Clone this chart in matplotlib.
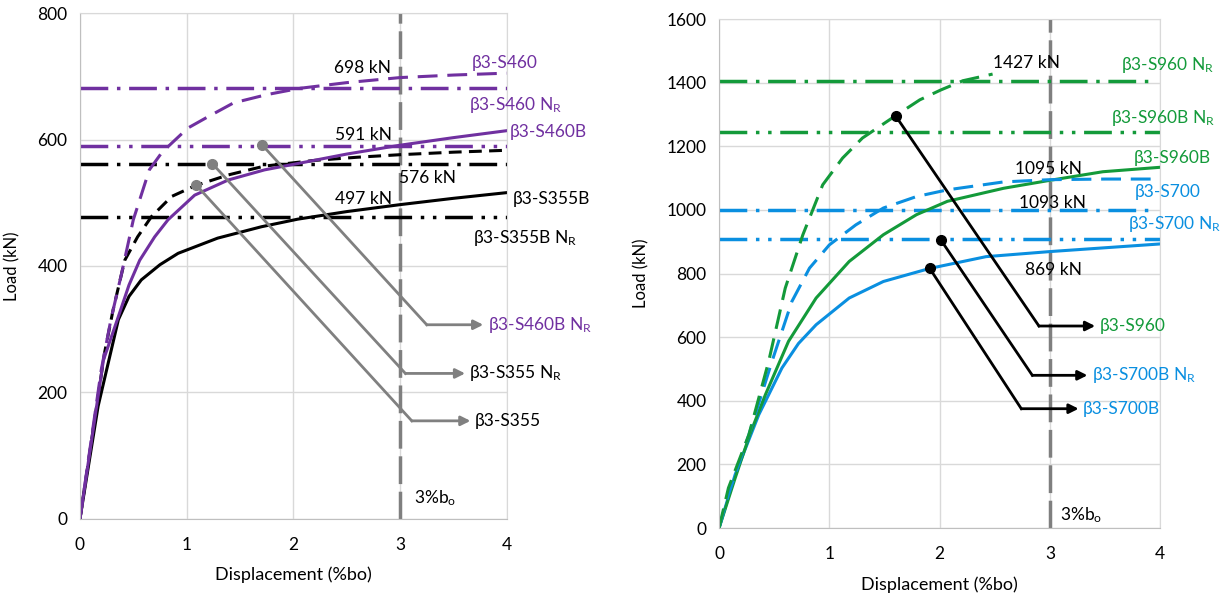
# Load-displacement curves, beta3 joints (S355/S460 left, S700/S960 right)

# ============================================
# region 1. Libraries
import matplotlib
matplotlib.use("Agg")
import matplotlib.pyplot as plt
# endregion

# ============================================
# region 2. Data
# --- left panel ---
s355b_x = [0, 0.17, 0.36, 0.46, 0.575, 0.75, 0.92, 1.29, 1.7, 2.04, 2.5, 3.0, 3.5, 4.0]
s355b_y = [0, 178, 315, 352, 378, 402, 420, 444, 462, 474, 486, 497, 507, 516]

s355_x = [0, 0.23, 0.31, 0.42, 0.54, 0.67, 0.86, 1.08, 1.39, 1.73, 2.2, 2.6, 3.0, 3.5, 4.0]
s355_y = [0, 262, 330, 409, 446, 478, 510, 527, 544, 558, 567, 572, 576, 580, 583]

s460b_x = [0, 0.22, 0.36, 0.46, 0.56, 0.7, 0.825, 1.075, 1.39, 1.73, 2.04, 2.5, 3.0, 3.5, 4.0]
s460b_y = [0, 251, 320, 370, 409, 446, 473, 512, 536, 552, 562, 577, 591, 603, 614]

s460_x = [0, 0.2, 0.29, 0.39, 0.5, 0.65, 0.77, 0.89, 1.01, 1.2, 1.44, 1.75, 2.06, 2.5, 3.0, 3.5, 4.0]
s460_y = [0, 236, 315, 388, 473, 552, 580, 599, 618, 636, 658, 671, 681, 690, 698, 702, 705]

nr_left = [682, 589, 561, 478]   # S460, S460B, S355, S355B resistances

left_markers_x = [1.09, 1.24, 1.71]
left_markers_y = [528, 562, 591]
left_elbow_x = [3.11, 3.05, 3.25]
left_elbow_y = [155, 230, 307]
left_tip_x = [3.66, 3.61, 3.78]
left_arrow_labels = ["β3-S355", r"β3-S355 $\mathregular{N_R}$", r"β3-S460B $\mathregular{N_R}$"]

# --- right panel ---
s960_x = [0, 0.085, 0.27, 0.45, 0.6, 0.76, 0.94, 1.12, 1.3, 1.6, 1.82, 2.01, 2.21, 2.48]
s960_y = [0, 126, 293, 524, 754, 922, 1079, 1163, 1226, 1296, 1346, 1377, 1406, 1427]

s700_x = [0, 0.085, 0.27, 0.48, 0.66, 0.82, 1.0, 1.24, 1.49, 1.79, 2.07, 2.58, 3.0, 3.5, 4.0]
s700_y = [0, 105, 293, 524, 712, 817, 890, 953, 1006, 1042, 1063, 1088, 1095, 1097, 1097]

s960b_x = [0, 0.146, 0.28, 0.42, 0.63, 0.88, 1.18, 1.49, 1.79, 2.07, 2.58, 3.0, 3.48, 4.0]
s960b_y = [0, 157, 295, 419, 587, 723, 838, 922, 985, 1027, 1068, 1093, 1120, 1134]

s700b_x = [0, 0.146, 0.36, 0.57, 0.72, 0.88, 1.18, 1.49, 1.91, 2.42, 3.0, 4.0]
s700b_y = [0, 168, 356, 503, 580, 639, 723, 775, 816, 853, 869, 893]

nr_right = [1404, 1245, 1000, 908]   # S960, S960B, S700, S700B resistances

right_markers_x = [1.6, 2.01, 1.91]
right_markers_y = [1296, 906, 816]
right_elbow_x = [2.9, 2.84, 2.74]
right_elbow_y = [635, 480, 375]
right_tip_x = [3.41, 3.34, 3.26]
right_arrow_labels = ["β3-S960", r"β3-S700B $\mathregular{N_R}$", "β3-S700B"]
# endregion

# ============================================
# region 3. Style
purple = "#7030A0"
green = "#139A3A"
blue = "#0A8FE0"
grey = "#808080"
grid_col = "#D9D9D9"

plt.rcParams["font.family"] = ["Lato", "DejaVu Sans"]
plt.rcParams["mathtext.fontset"] = "custom"
plt.rcParams["mathtext.rm"] = "Lato"
plt.rcParams["font.size"] = 12
plt.rcParams["lines.solid_joinstyle"] = "round"
plt.rcParams["lines.dash_joinstyle"] = "round"

long_dash_dot = (0, (8, 2.5, 1, 2.5))
long_dash_dot_dot = (0, (8, 2.5, 1, 2.5, 1, 2.5))
# endregion

fig = plt.figure(figsize=(12.3, 5.95), dpi=100)
ax1 = fig.add_axes([0.065, 0.128, 0.347, 0.85])
ax2 = fig.add_axes([0.5846, 0.1126, 0.3587, 0.8554])


def base_axes(ax, ymax, ystep):
    ax.set_xlim(0, 4)
    ax.set_ylim(0, ymax)
    ax.set_xticks(range(0, 5))
    ax.set_yticks(range(0, ymax + 1, ystep))
    ax.grid(True, color=grid_col, linewidth=1)
    ax.set_axisbelow(True)
    for s in ax.spines.values():
        s.set_color(grid_col)
    ax.spines["left"].set_color("#BFBFBF")
    ax.spines["bottom"].set_color("#BFBFBF")
    ax.tick_params(axis="x", length=0, pad=13, labelsize=12.5)
    ax.tick_params(axis="y", length=0, pad=9, labelsize=12.5)
    ax.set_xlabel("Displacement (%bo)", fontsize=13, labelpad=10)
    ax.set_ylabel("Load (kN)", fontsize=12, labelpad=12)
    # 3% b0 limit
    ax.axvline(3, color="#7F7F7F", linewidth=2.5, linestyle=(0, (8, 2.2)), zorder=1)


def leader(ax, mx, my, ex, ey, tx, label, col, lcol):
    ax.plot([mx, ex], [my, ey], color=lcol, linewidth=2, zorder=4)
    ax.plot(mx, my, "o", color=lcol, markersize=7, zorder=5)
    ax.annotate("", xy=(tx, ey), xytext=(ex, ey),
                arrowprops=dict(arrowstyle="-|>", color=lcol, lw=2, mutation_scale=14,
                                shrinkA=0, shrinkB=0), annotation_clip=False)
    ax.text(tx + 0.04, ey, label, color=col, fontsize=12.5, va="center", ha="left",
            clip_on=False)


# ============================================
# region 4. Left panel
base_axes(ax1, 800, 200)

ax1.axhline(nr_left[0], color=purple, linewidth=2.5, linestyle=long_dash_dot)
ax1.axhline(nr_left[1], color=purple, linewidth=2.5, linestyle=long_dash_dot_dot)
ax1.axhline(nr_left[2], color="black", linewidth=2.5, linestyle=long_dash_dot)
ax1.axhline(nr_left[3], color="black", linewidth=2.5, linestyle=long_dash_dot_dot)

ax1.plot(s355b_x, s355b_y, color="black", linewidth=2.2)
ax1.plot(s355_x, s355_y, color="black", linewidth=2.2, linestyle=(0, (4.2, 2.4)))
ax1.plot(s460b_x, s460b_y, color=purple, linewidth=2.2)
ax1.plot(s460_x, s460_y, color=purple, linewidth=2.2, linestyle=(0, (6.5, 3.2)))

for i in range(3):
    col = purple if "S460" in left_arrow_labels[i] else "black"
    leader(ax1, left_markers_x[i], left_markers_y[i], left_elbow_x[i], left_elbow_y[i],
           left_tip_x[i], left_arrow_labels[i], col, grey)

ax1.text(2.65, 713, "698 kN", ha="center", va="center", fontsize=12.5)
ax1.text(2.66, 607, "591 kN", ha="center", va="center", fontsize=12.5)
ax1.text(3.26, 539, "576 kN", ha="center", va="center", fontsize=12.5)
ax1.text(2.66, 506, "497 kN", ha="center", va="center", fontsize=12.5)

ax1.text(3.67, 721, "β3-S460", color=purple, va="center", fontsize=12.5, clip_on=False)
ax1.text(3.65, 655, r"β3-S460 $\mathregular{N_R}$", color=purple, va="center", fontsize=12.5, clip_on=False)
ax1.text(4.03, 612, "β3-S460B", color=purple, va="center", fontsize=12.5, clip_on=False)
ax1.text(4.06, 506, "β3-S355B", color="black", va="center", fontsize=12.5, clip_on=False)
ax1.text(3.68, 444, r"β3-S355B $\mathregular{N_R}$", color="black", va="center", fontsize=12.5, clip_on=False)
ax1.text(3.13, 32, r"3%$\mathregular{b_o}$", va="center", fontsize=12.5)
# endregion

# ============================================
# region 5. Right panel
base_axes(ax2, 1600, 200)

ax2.axhline(nr_right[0], xmax=0.98, color=green, linewidth=2.5, linestyle=long_dash_dot)
ax2.axhline(nr_right[1], color=green, linewidth=2.5, linestyle=long_dash_dot_dot)
ax2.axhline(nr_right[2], xmax=0.98, color=blue, linewidth=2.5, linestyle=long_dash_dot)
ax2.axhline(nr_right[3], color=blue, linewidth=2.5, linestyle=long_dash_dot_dot)

ax2.plot(s700b_x, s700b_y, color=blue, linewidth=2.2)
ax2.plot(s960b_x, s960b_y, color=green, linewidth=2.2)
ax2.plot(s700_x, s700_y, color=blue, linewidth=2.2, linestyle=(0, (6.5, 3.2)))
ax2.plot(s960_x, s960_y, color=green, linewidth=2.2, linestyle=(0, (6.5, 3.2)))

for i in range(3):
    col = green if "S960" in right_arrow_labels[i] else blue
    leader(ax2, right_markers_x[i], right_markers_y[i], right_elbow_x[i], right_elbow_y[i],
           right_tip_x[i], right_arrow_labels[i], col, "black")

ax2.text(2.79, 1462, "1427 kN", ha="center", va="center", fontsize=12.5)
ax2.text(2.99, 1128, "1095 kN", ha="center", va="center", fontsize=12.5)
ax2.text(3.02, 1023, "1093 kN", ha="center", va="center", fontsize=12.5)
ax2.text(3.03, 810, "869 kN", ha="center", va="center", fontsize=12.5)

ax2.text(3.64, 1456, r"β3-S960 $\mathregular{N_R}$", color=green, va="center", fontsize=12.5, clip_on=False)
ax2.text(3.55, 1290, r"β3-S960B $\mathregular{N_R}$", color=green, va="center", fontsize=12.5, clip_on=False)
ax2.text(3.76, 1162, "β3-S960B", color=green, va="center", fontsize=12.5, clip_on=False)
ax2.text(3.77, 1057, "β3-S700", color=blue, va="center", fontsize=12.5, clip_on=False)
ax2.text(3.71, 957, r"β3-S700 $\mathregular{N_R}$", color=blue, va="center", fontsize=12.5, clip_on=False)
ax2.text(3.09, 40, r"3%$\mathregular{b_o}$", va="center", fontsize=12.5)
# endregion

fig.savefig("out.png", dpi=100)
